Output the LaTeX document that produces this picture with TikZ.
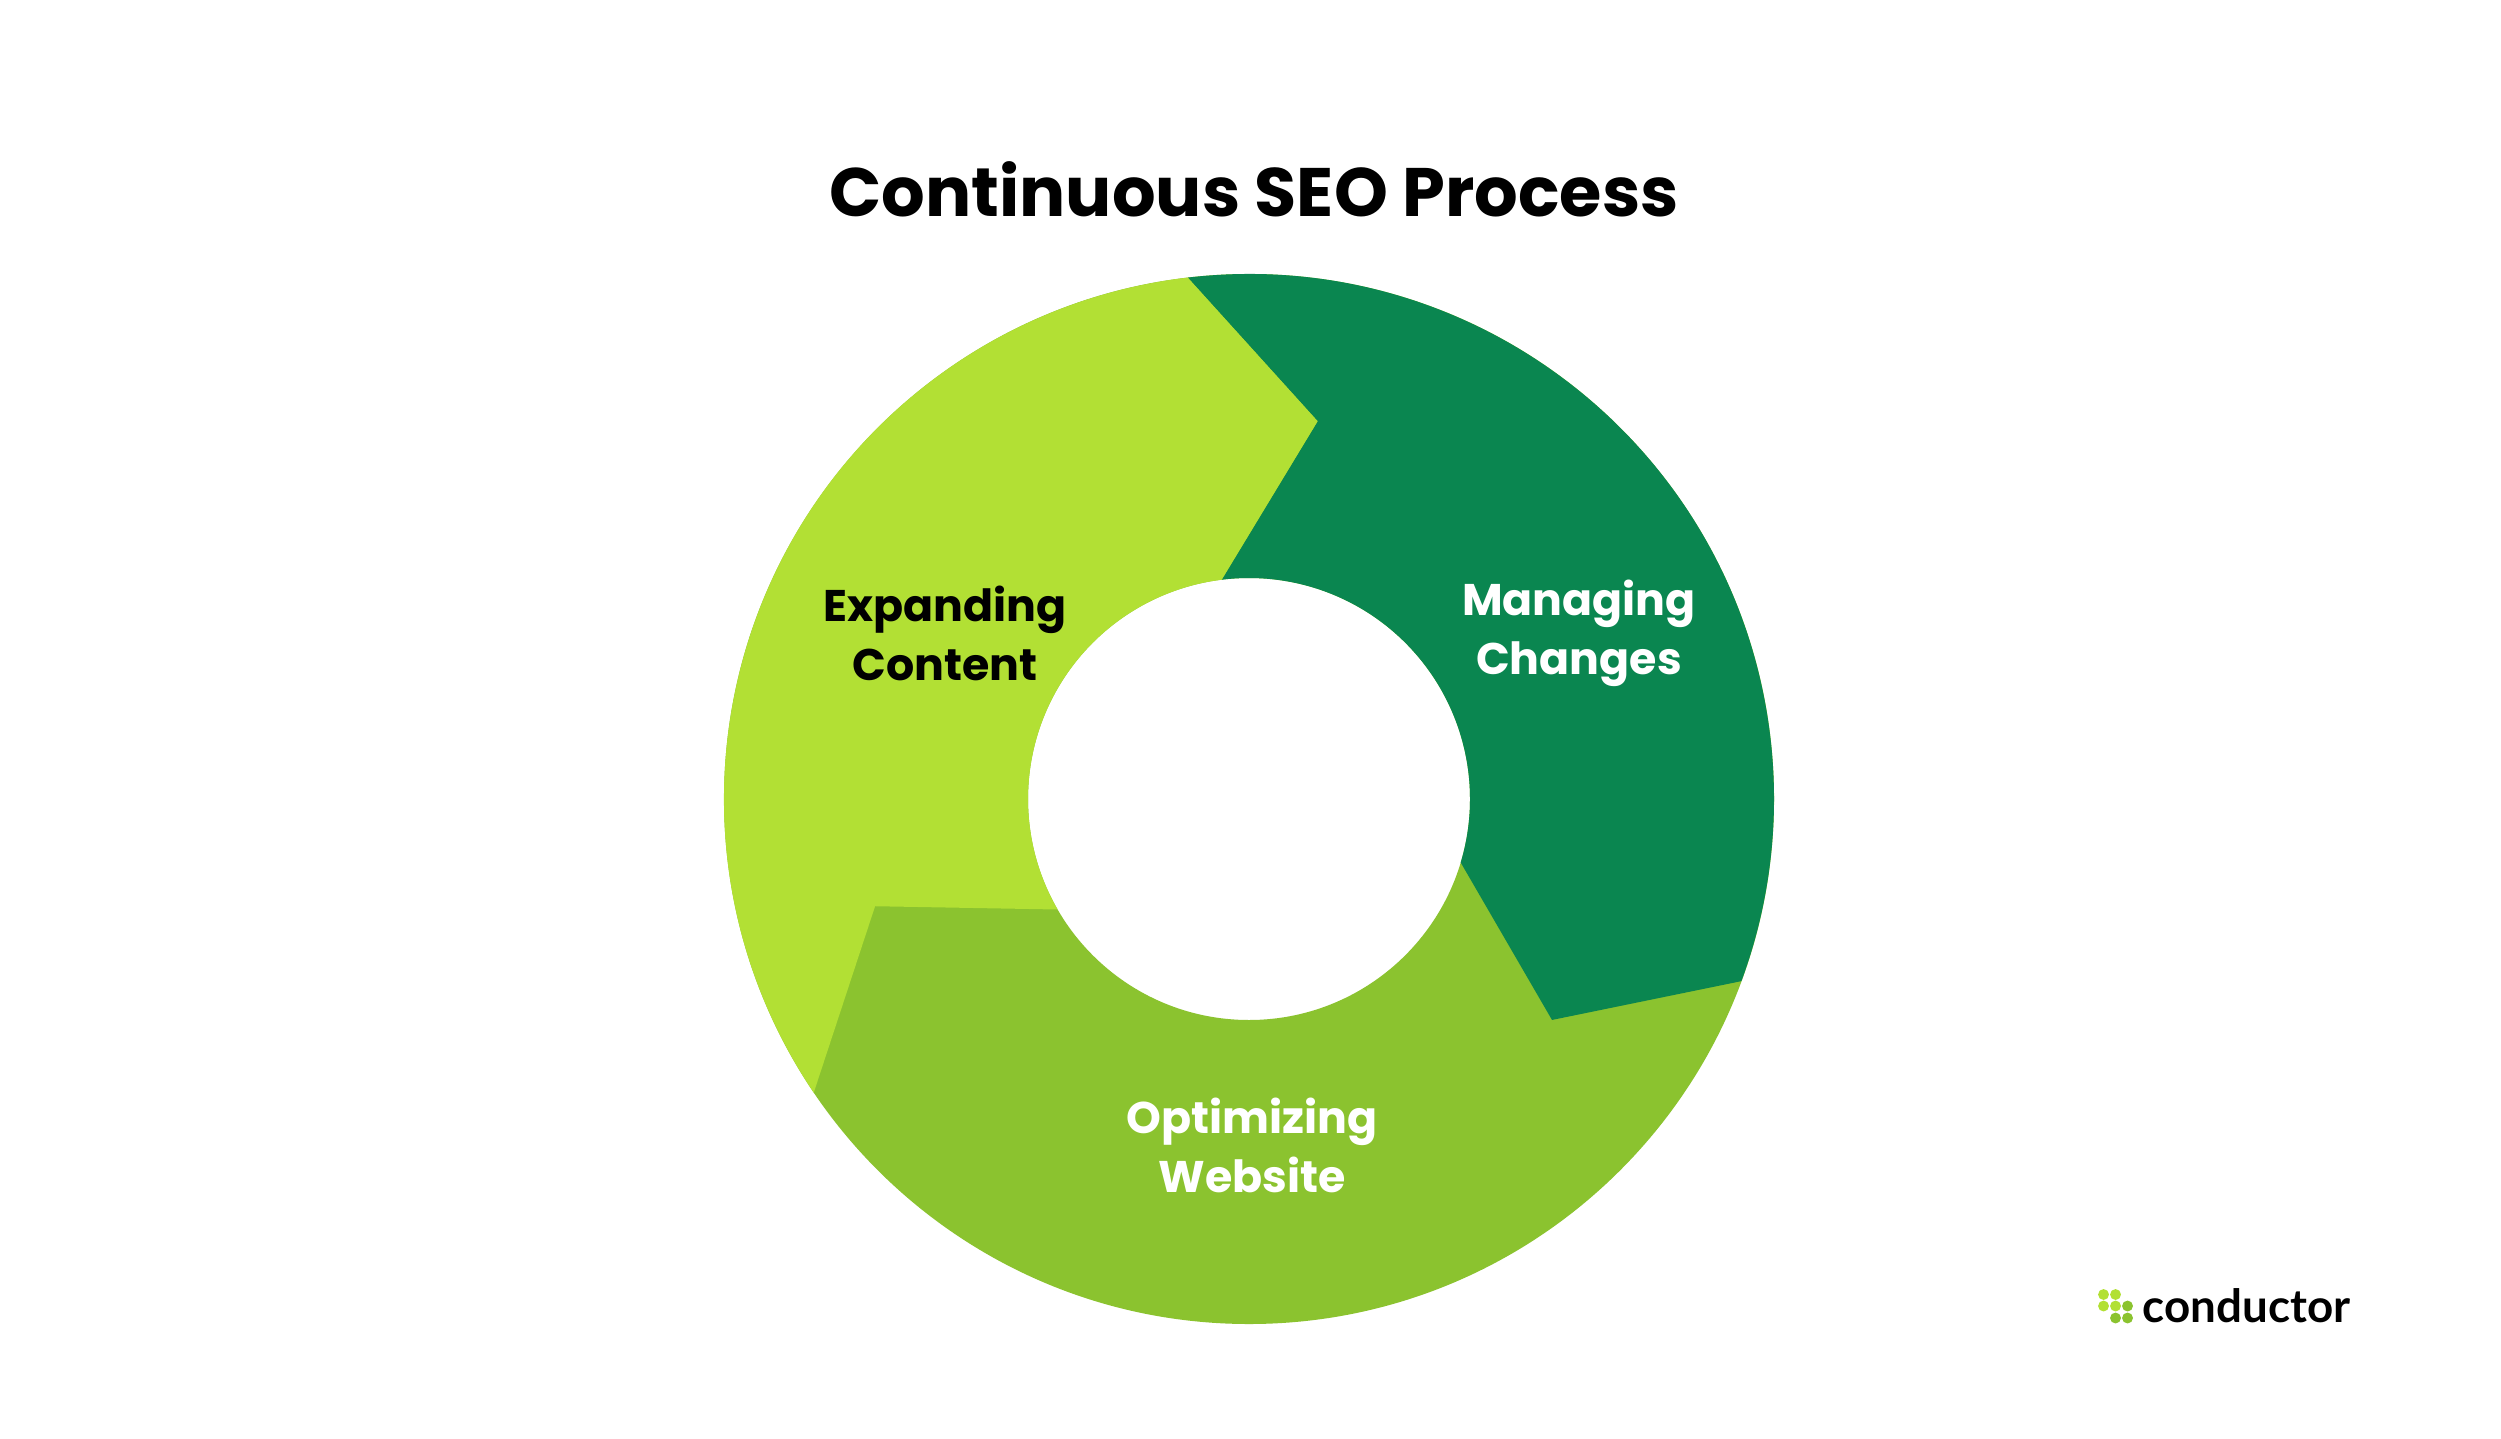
\documentclass[tikz,border=0pt]{standalone}
\usepackage{fontspec}
\setmainfont{Poppins}
\newfontfamily\logofont{Lato}
\definecolor{darkg}{HTML}{0A8650}
\definecolor{limeg}{HTML}{B2E034}
\definecolor{midg}{HTML}{8BC32F}
\begin{document}
\begin{tikzpicture}[x=0.01cm,y=0.01cm,
  lbl/.style={font=\fontsize{12.6}{16.8}\selectfont\bfseries,align=center},
  dot/.style={circle,inner sep=0pt,minimum size=3.1pt}]
\useasboundingbox (0,0) rectangle (2501,1438);
\fill[white] (0,0) rectangle (2501,1438);
\node[font=\fontsize{19.5}{24}\selectfont\bfseries] (title) at (1254,1249) {Continuous SEO Process};
\begin{scope}[shift={(1249,639)}]
\fill[midg,even odd rule] (0,0) circle (525) (0,0) circle (221);
\fill[darkg] (96.7:525) arc[start angle=96.7,end angle=-20.3,radius=525]
  -- (-36.1:375) -- (-16.7:221) arc[start angle=-16.7,end angle=97.1,radius=221]
  -- (79.7:384) -- cycle;
\fill[limeg] (214:525) arc[start angle=214,end angle=96.7,radius=525]
  -- (79.7:384) -- (97.1:221) arc[start angle=97.1,end angle=210,radius=221]
  -- (196:389) -- cycle;
\end{scope}
\node[lbl] (exp) at (945,805) {Expanding\\Content};
\node[lbl,text=white] (man) at (1579,805) {Managing\\Changes};
\node[lbl,text=white] (opt) at (1252,293) {Optimizing\\Website};
\node[dot,fill=limeg] (d1) at (2103.5,143.5) {};
\node[dot,fill=limeg] (d2) at (2115.5,143.5) {};
\node[dot,fill=limeg] (d3) at (2103.5,132) {};
\node[dot,fill=limeg] (d4) at (2115.5,132) {};
\node[dot,fill=midg] (d5) at (2127.5,132) {};
\node[dot,fill=midg] (d6) at (2115.5,120) {};
\node[dot,fill=midg] (d7) at (2127.5,120) {};
\node[anchor=base west,inner sep=0pt,font=\logofont\fontsize{13}{16}\selectfont\bfseries] (logo) at (2142,116) {conductor};
\end{tikzpicture}
\end{document}
